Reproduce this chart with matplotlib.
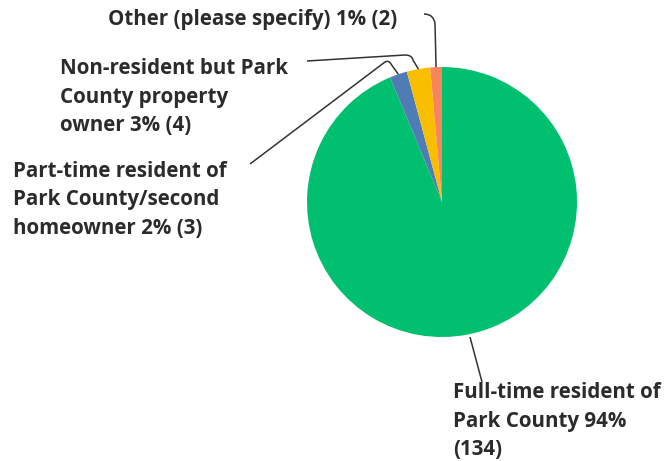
import numpy as np
import matplotlib
matplotlib.use("Agg")
import matplotlib.pyplot as plt
from matplotlib.path import Path
from matplotlib.patches import PathPatch

labels = ["Full-time resident of\nPark County 94%\n(134)",
          "Part-time resident of\nPark County/second\nhomeowner 2% (3)",
          "Non-resident but Park\nCounty property\nowner 3% (4)",
          "Other (please specify) 1% (2)"]
counts = [134, 3, 4, 2]
colors = ["#00BF6F", "#507CB6", "#F9BE00", "#F7845C"]

W, H = 667, 461
fig = plt.figure(figsize=(W / 100, H / 100), dpi=100)
ax = fig.add_axes([0, 0, 1, 1])
cx, cy, R = 442, H - 202, 135
wedges, _ = ax.pie(counts, colors=colors, startangle=90, counterclock=False,
                   center=(cx, cy), radius=R, wedgeprops=dict(linewidth=0))
ax.set_xlim(0, W)
ax.set_ylim(0, H)
ax.set_aspect("equal")
ax.axis("off")

def edge_point(w, frac=0.5):
    a = np.deg2rad(w.theta1 + (w.theta2 - w.theta1) * frac)
    return cx + R * np.cos(a), cy + R * np.sin(a)

def leader(pts, codes):
    p = Path([(x, H - y) for x, y in pts], codes)
    ax.add_patch(PathPatch(p, fill=False, edgecolor="#333333", lw=1.1))

def topix(pt):
    return pt[0], H - pt[1]

M, L, C = Path.MOVETO, Path.LINETO, Path.CURVE3
# Full-time
leader([(470, 337), (482, 382)], [M, L])
# Part-time
e = topix(edge_point(wedges[1]))
leader([(250, 164), (385, 62), (389, 60), (391, 64), e], [M, L, C, C, L])
# Non-resident
e = topix(edge_point(wedges[2]))
leader([(307, 61), (405, 55), (412, 55), (413, 60), e], [M, L, C, C, L])
# Other
e = topix(edge_point(wedges[3]))
leader([(424, 14), (434, 14), (435, 24), e], [M, C, C, L])

font = dict(family="Open Sans", fontweight="bold", fontsize=14.8, color="#2b2b2b",
            linespacing=1.48, va="center", ha="left")
ax.text(108, H - 20, labels[3], **font)
ax.text(60, H - 97, labels[2], **font)
ax.text(13, H - 200, labels[1], **font)
ax.text(453, H - 421, labels[0], **font)

fig.savefig("out.png", dpi=100)
